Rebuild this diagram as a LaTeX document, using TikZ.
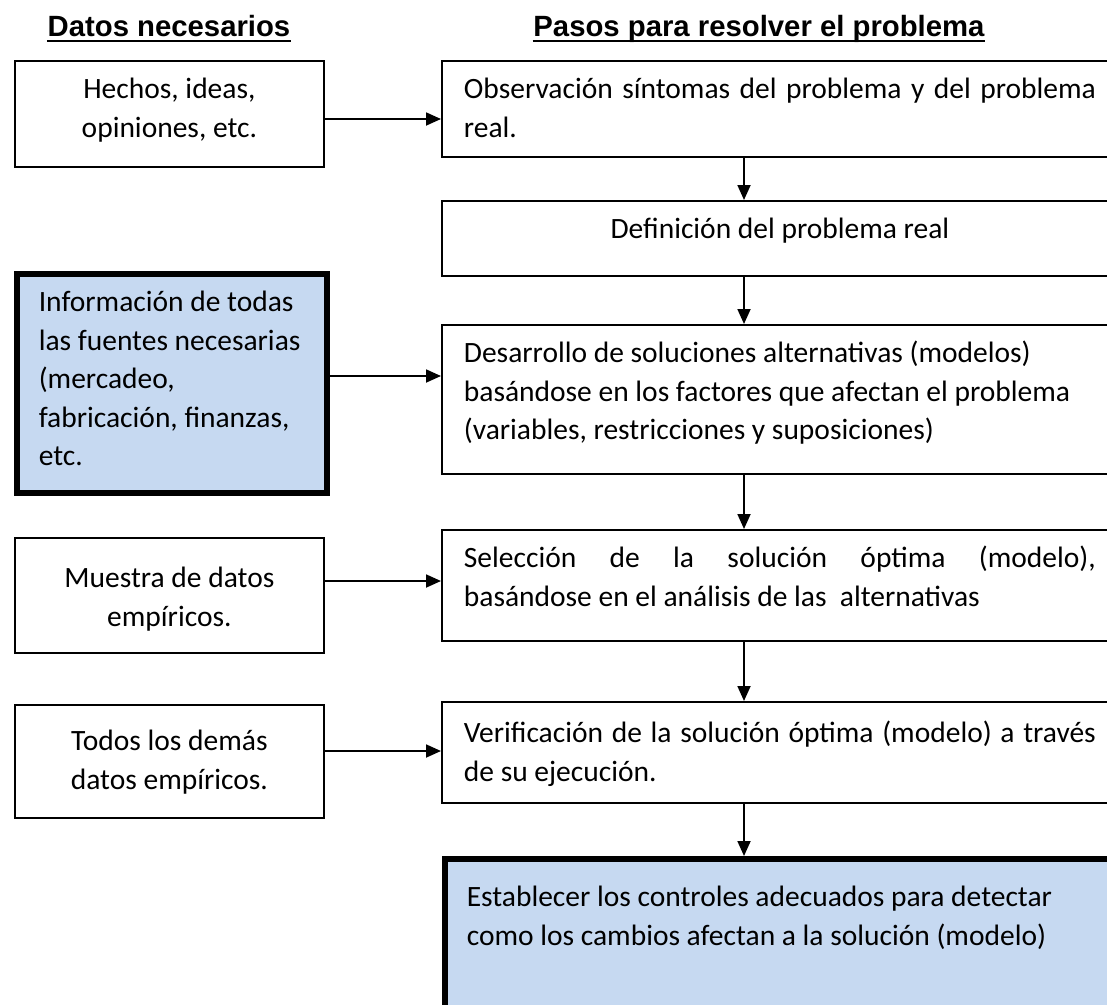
\documentclass[tikz,border=0pt]{standalone}
\usepackage{fontspec}
\setmainfont{Carlito}
\newfontfamily\titulofont{Liberation Sans}
\usetikzlibrary{arrows.meta}
\definecolor{azulclaro}{RGB}{198,217,241}
\newcommand{\textocaja}[5][38pt]{\parbox[c][#2][t]{#3}{#4\rule{0pt}{#1}\ignorespaces#5}}

\begin{document}
\begin{tikzpicture}[x=1pt, y=-1pt,
                    line width=1.8pt,
                    >={Triangle[length=15pt,width=13pt]}]
    \tikzstyle{caja}=[draw, anchor=north west, inner xsep=22pt, inner ysep=0pt,
                      font=\fontsize{29.5}{38.5}\selectfont]
    \tikzstyle{cajaazul}=[caja, fill=azulclaro, line width=5.5pt]
    \tikzstyle{titulo}=[inner sep=0pt, anchor=base,
                        font=\titulofont\bfseries\fontsize{29.3}{35}\selectfont]
    \tikzstyle{flecha}=[->]

    \useasboundingbox (0,0) rectangle (1107,1004);

    \node[titulo] (tdatos) at (169,36) {Datos necesarios};
    \node[titulo] (tpasos) at (759,36) {Pasos para resolver el problema};
    \draw[line width=2.5pt] ([yshift=-5pt]tdatos.base west) -- ([yshift=-5pt]tdatos.base east);
    \draw[line width=2.5pt] ([yshift=-5pt]tpasos.base west) -- ([yshift=-5pt]tpasos.base east);

    % datos necesarios
    \node[caja] (hechos) at (14,60)
        {\textocaja{106pt}{265pt}{\centering}{Hechos, ideas,\\ opiniones, etc.}};
    \node[cajaazul] (info) at (14,271)
        {\textocaja{219pt}{266pt}{\raggedright}{Información de todas\\ las fuentes necesarias\\ (mercadeo,\\ fabricación, finanzas,\\ etc.}};
    \node[caja] (muestra) at (14,537)
        {\textocaja[50pt]{115pt}{265pt}{\centering}{Muestra de datos\\ empíricos.}};
    \node[caja] (todos) at (14,704)
        {\textocaja[46pt]{113pt}{265pt}{\centering}{Todos los demás\\ datos empíricos.}};

    % pasos
    \node[caja] (obs) at (441,60)
        {\textocaja{96pt}{632pt}{\raggedright}{\makebox[\linewidth][s]{Observación síntomas del problema y del problema}\\ real.}};
    \node[caja] (def) at (441,200)
        {\textocaja{75pt}{632pt}{\centering}{Definición del problema real}};
    \node[caja] (desarrollo) at (441,324)
        {\textocaja{149pt}{632pt}{\raggedright}{Desarrollo de soluciones alternativas (modelos)\\ basándose en los factores que afectan el problema\\ (variables, restricciones y suposiciones)}};
    \node[caja] (seleccion) at (441,529)
        {\textocaja{111pt}{632pt}{\raggedright}{\makebox[\linewidth][s]{Selección de la solución óptima (modelo),}\\ basándose en el análisis de las\ \ alternativas}};
    \node[caja] (verif) at (441,701)
        {\textocaja[41pt]{101pt}{632pt}{\raggedright}{\makebox[\linewidth][s]{Verificación de la solución óptima (modelo) a través}\\ de su ejecución.}};
    \node[cajaazul] (controles) at (442,856)
        {\textocaja[48pt]{160pt}{632pt}{\raggedright}{Establecer los controles adecuados para detectar\\ como los cambios afectan a la solución (modelo)}};

    \coordinate (eje) at (744,0);
    \coordinate (f1) at (0,119);
    \coordinate (f2) at (0,376);
    \coordinate (f3) at (0,581);
    \coordinate (f4) at (0,751);

    \draw[flecha] (hechos.east |- f1) -- (obs.west |- f1);
    \draw[flecha] (info.east |- f2) -- (desarrollo.west |- f2);
    \draw[flecha] (muestra.east |- f3) -- (seleccion.west |- f3);
    \draw[flecha] (todos.east |- f4) -- (verif.west |- f4);

    \draw[flecha] (obs.south -| eje) -- (def.north -| eje);
    \draw[flecha] (def.south -| eje) -- (desarrollo.north -| eje);
    \draw[flecha] (desarrollo.south -| eje) -- (seleccion.north -| eje);
    \draw[flecha] (seleccion.south -| eje) -- (verif.north -| eje);
    \draw[flecha] (verif.south -| eje) -- (controles.north -| eje);
\end{tikzpicture}
\end{document}
